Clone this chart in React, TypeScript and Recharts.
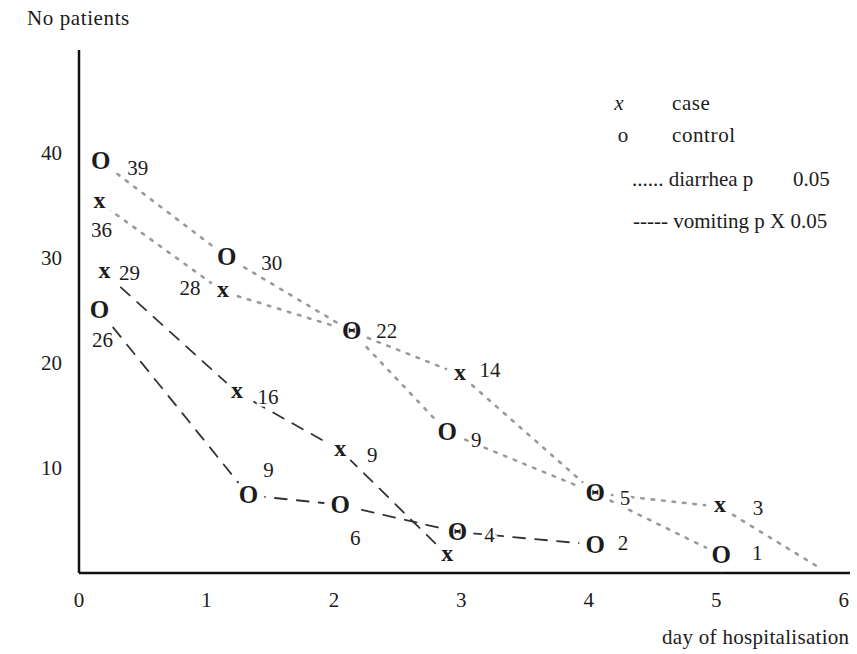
import React from 'react';
import { LineChart, Line, XAxis, YAxis } from 'recharts';

// positions (day, number of patients) + the printed labels
const diarrheaCaseDay = [0.16, 1.13, 2.14, 2.99, 4.05, 5.03, 5.81];
const diarrheaCaseCount = [35.3, 26.8, 23.0, 18.9, 7.6, 6.3, 0.5];
const diarrheaCaseMark = ['x', 'x', '', 'x', '', 'x', ''];
const diarrheaCaseLabel = ['36', '28', '', '14', '', '3', ''];

const diarrheaControlDay = [0.17, 1.16, 2.14, 2.89, 4.05, 5.04];
const diarrheaControlCount = [39.2, 30.1, 23.0, 13.4, 7.6, 1.7];
const diarrheaControlMark = ['O', 'O', 'Θ', 'O', 'Θ', 'O'];
const diarrheaControlLabel = ['39', '30', '22', '9', '5', '1'];

const vomitingCaseDay = [0.2, 1.24, 2.05, 2.89];
const vomitingCaseCount = [28.6, 17.2, 11.7, 1.7];
const vomitingCaseMark = ['x', 'x', 'x', 'x'];
const vomitingCaseLabel = ['29', '16', '9', ''];

const vomitingControlDay = [0.16, 1.33, 2.05, 2.97, 4.05];
const vomitingControlCount = [25.0, 7.4, 6.5, 3.9, 2.7];
const vomitingControlMark = ['O', 'O', 'O', 'Θ', 'O'];
const vomitingControlLabel = ['26', '9', '6', '4', '2'];

const dayTicks = [0, 1, 2, 3, 4, 5, 6];
const patientTicks = [10, 20, 30, 40];

// where each number sits relative to its marker (px)
const diarrheaCaseOffset = [[2, 28], [-33, -4], [0, 0], [30, -5], [0, 0], [38, 1], [0, 0]];
const diarrheaControlOffset = [[37, 7], [45, 6], [35, 0], [29, 8], [30, 5], [36, -2]];
const vomitingCaseOffset = [[25, 0], [31, 5], [32, 5], [0, 0]];
const vomitingControlOffset = [[3, 30], [20, -25], [15, 33], [32, 3], [28, -2]];

const FONT = '"Liberation Serif", "DejaVu Serif", serif';
const INK = '#1c1c1c';
const TXT = 21;

const toRows = (days: number[], counts: number[]) =>
  days.map((day, i) => ({ day, n: counts[i] }));

const makeGlyph = (marks: string[], labels: string[], offsets: number[][]) => (props: any) => {
  const { cx, cy, index } = props;
  const mark = marks[index];
  const label = labels[index];
  const [dx, dy] = offsets[index];
  return (
    <g key={`glyph-${index}`}>
      {mark && <circle cx={cx} cy={cy} r={mark === 'x' ? 14 : 16} fill="#fff" />}
      {mark && (
        <text
          x={cx}
          y={cy + (mark === 'x' ? 5.5 : 8)}
          textAnchor="middle"
          fontFamily={FONT}
          fontSize={mark === 'x' ? 24 : 25}
          fontWeight={700}
          fill={INK}
        >
          {mark}
        </text>
      )}
      {label && (
        <text
          x={cx + dx}
          y={cy + dy + 7}
          textAnchor="middle"
          fontFamily={FONT}
          fontSize={TXT}
          fill={INK}
          stroke="#fff"
          strokeWidth={5}
          paintOrder="stroke"
        >
          {label}
        </text>
      )}
    </g>
  );
};

const series = [
  { id: 'dCase', rows: toRows(diarrheaCaseDay, diarrheaCaseCount), dash: '2.5 8', color: '#9a9a9a', width: 2.6, glyph: makeGlyph(diarrheaCaseMark, diarrheaCaseLabel, diarrheaCaseOffset) },
  { id: 'dCtrl', rows: toRows(diarrheaControlDay, diarrheaControlCount), dash: '2.5 8', color: '#9a9a9a', width: 2.6, glyph: makeGlyph(diarrheaControlMark, diarrheaControlLabel, diarrheaControlOffset) },
  { id: 'vCase', rows: toRows(vomitingCaseDay, vomitingCaseCount), dash: '12 10', color: '#333', width: 1.8, glyph: makeGlyph(vomitingCaseMark, vomitingCaseLabel, vomitingCaseOffset) },
  { id: 'vCtrl', rows: toRows(vomitingControlDay, vomitingControlCount), dash: '12 10', color: '#333', width: 1.8, glyph: makeGlyph(vomitingControlMark, vomitingControlLabel, vomitingControlOffset) },
];

export default function App() {
  return (
    <div style={{ position: 'absolute', left: 0, top: 0, width: 857, height: 654, background: '#fff' }}>
      <LineChart width={857} height={654} margin={{ top: 50, right: 7, bottom: 41, left: 19 }}>
        <XAxis
          type="number"
          dataKey="day"
          domain={[0, 6.05]}
          ticks={dayTicks}
          height={40}
          tickSize={0}
          tickMargin={19}
          axisLine={{ stroke: '#111', strokeWidth: 2.5 }}
          tick={{ fill: INK, fontSize: TXT, fontFamily: FONT }}
          allowDuplicatedCategory={false}
        />
        <YAxis
          type="number"
          domain={[0, 49.8]}
          ticks={patientTicks}
          width={60}
          tickSize={0}
          tickMargin={17}
          axisLine={{ stroke: '#111', strokeWidth: 2.5 }}
          tick={{ fill: INK, fontSize: TXT, fontFamily: FONT }}
        />
        {series.map((s) => (
          <Line
            key={s.id}
            data={s.rows}
            dataKey="n"
            type="linear"
            stroke={s.color}
            strokeWidth={s.width}
            strokeDasharray={s.dash}
            strokeLinecap="round"
            dot={false}
            activeDot={false}
            isAnimationActive={false}
          />
        ))}
        {series.map((s) => (
          <Line
            key={`${s.id}-marks`}
            data={s.rows}
            dataKey="n"
            stroke="none"
            dot={s.glyph}
            activeDot={false}
            isAnimationActive={false}
          />
        ))}
      </LineChart>
      <svg width={857} height={654} style={{ position: 'absolute', left: 0, top: 0, pointerEvents: 'none' }}>
        <g fontFamily={FONT} fontSize={TXT} fill={INK}>
          <text x={27} y={25} letterSpacing={0.6}>No patients</text>
          <text x={662} y={644} letterSpacing={0.3}>day of hospitalisation</text>
          <text x={619} y={110} textAnchor="middle" fontStyle="italic">x</text>
          <text x={672} y={110} letterSpacing={0.6}>case</text>
          <text x={623} y={142} textAnchor="middle">o</text>
          <text x={672} y={142} letterSpacing={0.6}>control</text>
          <text x={632} y={186}>...... diarrhea p</text>
          <text x={793} y={186}>0.05</text>
          <text x={633} y={228}>----- vomiting p X 0.05</text>
        </g>
      </svg>
    </div>
  );
}
